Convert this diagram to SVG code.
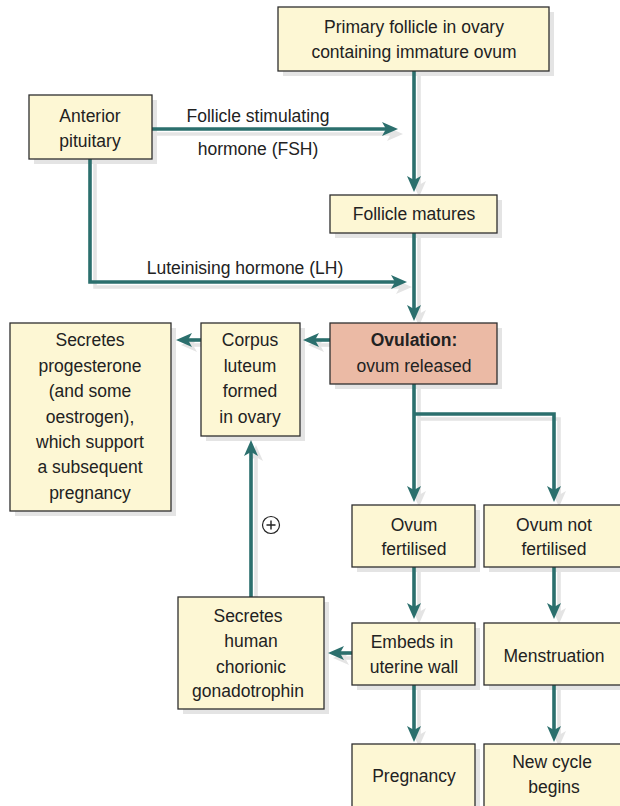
<svg xmlns="http://www.w3.org/2000/svg" width="620" height="806" viewBox="0 0 620 806">
<style>
.box{fill:#fdf7d4;stroke:#2f2f2f;stroke-width:1.3}
.ov{fill:#ebbaa5;stroke:#2f2f2f;stroke-width:1.3}
.sh{fill:#e4e4e4;stroke:none}
.ln{fill:none;stroke:#2b6f6d;stroke-width:3.6}
.lsh{fill:none;stroke:#e4e4e4;stroke-width:3.6}
text{font-family:"Liberation Sans",Arial,sans-serif;font-size:17.5px;fill:#222;text-anchor:middle}
.b{font-weight:bold}
</style>
<defs>
<marker id="ah" markerUnits="userSpaceOnUse" markerWidth="18" markerHeight="16" refX="6" refY="7" orient="auto" viewBox="0 0 18 16">
<path d="M0,0 L16,7 L0,14 L4,7 z" fill="#2b6f6d"/>
</marker>
<marker id="ahs" markerUnits="userSpaceOnUse" markerWidth="18" markerHeight="16" refX="6" refY="7" orient="auto" viewBox="0 0 18 16">
<path d="M0,0 L16,7 L0,14 L4,7 z" fill="#e4e4e4"/>
</marker>
</defs>
<g id="shadows">
<rect class="sh" x="283" y="12" width="271" height="64"/>
<rect class="sh" x="34" y="100" width="123" height="64"/>
<rect class="sh" x="335" y="200" width="167" height="38"/>
<rect class="sh" x="335" y="328" width="167" height="61"/>
<rect class="sh" x="206" y="328" width="99" height="113"/>
<rect class="sh" x="15" y="328" width="161" height="188"/>
<rect class="sh" x="357" y="510" width="123" height="62"/>
<rect class="sh" x="489" y="510" width="140" height="62"/>
<rect class="sh" x="357" y="628" width="123" height="62"/>
<rect class="sh" x="489" y="628" width="140" height="62"/>
<rect class="sh" x="183" y="602" width="146" height="112"/>
<rect class="sh" x="357" y="749" width="123" height="70"/>
<rect class="sh" x="489" y="749" width="140" height="70"/>
<g transform="translate(5,5)">
<path class="lsh" d="M414,71 V182" marker-end="url(#ahs)"/>
<path class="lsh" d="M152,129 H388" marker-end="url(#ahs)"/>
<path class="lsh" d="M90,159 V282 H397" marker-end="url(#ahs)"/>
<path class="lsh" d="M414,233 V311" marker-end="url(#ahs)"/>
<path class="lsh" d="M330,340 H313" marker-end="url(#ahs)"/>
<path class="lsh" d="M201,340 H186" marker-end="url(#ahs)"/>
<path class="lsh" d="M414,384 V492" marker-end="url(#ahs)"/>
<path class="lsh" d="M414,414 H554 V492" marker-end="url(#ahs)"/>
<path class="lsh" d="M414,567 V609" marker-end="url(#ahs)"/>
<path class="lsh" d="M554,567 V609" marker-end="url(#ahs)"/>
<path class="lsh" d="M414,685 V732" marker-end="url(#ahs)"/>
<path class="lsh" d="M554,685 V732" marker-end="url(#ahs)"/>
<path class="lsh" d="M352,653 H338" marker-end="url(#ahs)"/>
<path class="lsh" d="M251,597 V450" marker-end="url(#ahs)"/>
</g>
</g>
<g id="connectors">
<path class="ln" d="M414,71 V182" marker-end="url(#ah)"/>
<path class="ln" d="M152,129 H388" marker-end="url(#ah)"/>
<path class="ln" d="M90,159 V282 H397" marker-end="url(#ah)"/>
<path class="ln" d="M414,233 V311" marker-end="url(#ah)"/>
<path class="ln" d="M330,340 H313" marker-end="url(#ah)"/>
<path class="ln" d="M201,340 H186" marker-end="url(#ah)"/>
<path class="ln" d="M414,384 V492" marker-end="url(#ah)"/>
<path class="ln" d="M414,414 H554 V492" marker-end="url(#ah)"/>
<path class="ln" d="M414,567 V609" marker-end="url(#ah)"/>
<path class="ln" d="M554,567 V609" marker-end="url(#ah)"/>
<path class="ln" d="M414,685 V732" marker-end="url(#ah)"/>
<path class="ln" d="M554,685 V732" marker-end="url(#ah)"/>
<path class="ln" d="M352,653 H338" marker-end="url(#ah)"/>
<path class="ln" d="M251,597 V450" marker-end="url(#ah)"/>
<text x="258" y="122">Follicle stimulating</text>
<text x="258" y="155">hormone (FSH)</text>
<text x="245" y="274">Luteinising hormone (LH)</text>
<g id="plus">
<circle cx="271" cy="525" r="8.5" fill="#fff" stroke="#222" stroke-width="1.2"/>
<path d="M266.5,525 H275.5 M271,520.5 V529.5" stroke="#222" stroke-width="1.4"/>
</g>
</g>
<g id="primary-follicle">
<rect class="box" x="278" y="7" width="271" height="64"/>
<text x="414" y="33">Primary follicle in ovary</text>
<text x="414" y="58">containing immature ovum</text>
</g>
<g id="anterior-pituitary">
<rect class="box" x="29" y="95" width="123" height="64"/>
<text x="90" y="122">Anterior</text>
<text x="90" y="147">pituitary</text>
</g>
<g id="follicle-matures">
<rect class="box" x="330" y="195" width="167" height="38"/>
<text x="414" y="220">Follicle matures</text>
</g>
<g id="ovulation">
<rect class="ov" x="330" y="323" width="167" height="61"/>
<text x="414" y="346" class="b">Ovulation:</text>
<text x="414" y="372">ovum released</text>
</g>
<g id="corpus-luteum">
<rect class="box" x="201" y="323" width="99" height="113"/>
<text x="250" y="346">Corpus</text>
<text x="250" y="372">luteum</text>
<text x="250" y="397">formed</text>
<text x="250" y="423">in ovary</text>
</g>
<g id="secretes-progesterone">
<rect class="box" x="10" y="323" width="161" height="188"/>
<text x="90" y="346">Secretes</text>
<text x="90" y="372">progesterone</text>
<text x="90" y="397">(and some</text>
<text x="90" y="423">oestrogen),</text>
<text x="90" y="448">which support</text>
<text x="90" y="473">a subsequent</text>
<text x="90" y="499">pregnancy</text>
</g>
<g id="ovum-fertilised">
<rect class="box" x="352" y="505" width="123" height="62"/>
<text x="414" y="531">Ovum</text>
<text x="414" y="555">fertilised</text>
</g>
<g id="ovum-not-fertilised">
<rect class="box" x="484" y="505" width="140" height="62"/>
<text x="554" y="531">Ovum not</text>
<text x="554" y="555">fertilised</text>
</g>
<g id="embeds">
<rect class="box" x="352" y="623" width="123" height="62"/>
<text x="412" y="648">Embeds in</text>
<text x="414" y="673">uterine wall</text>
</g>
<g id="menstruation">
<rect class="box" x="484" y="623" width="140" height="62"/>
<text x="554" y="662">Menstruation</text>
</g>
<g id="hcg">
<rect class="box" x="178" y="597" width="146" height="112"/>
<text x="248" y="622">Secretes</text>
<text x="251" y="647">human</text>
<text x="251" y="673">chorionic</text>
<text x="248" y="697">gonadotrophin</text>
</g>
<g id="pregnancy">
<rect class="box" x="352" y="744" width="123" height="70"/>
<text x="414" y="782">Pregnancy</text>
</g>
<g id="new-cycle">
<rect class="box" x="484" y="744" width="140" height="70"/>
<text x="552" y="768">New cycle</text>
<text x="554" y="793">begins</text>
</g>
</svg>
